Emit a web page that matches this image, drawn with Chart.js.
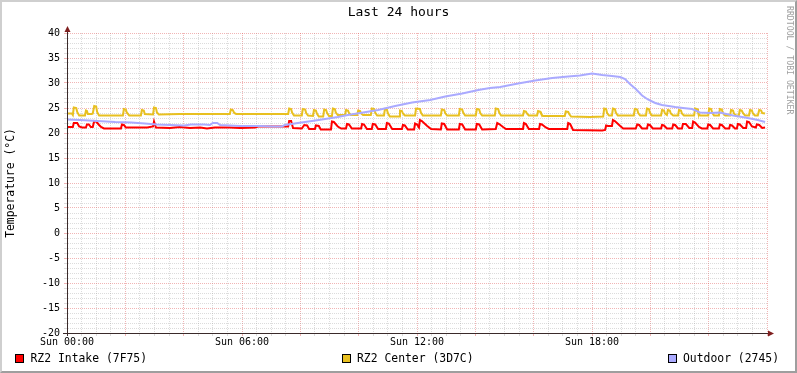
<!DOCTYPE html>
<html><head><meta charset="utf-8">
<script src="https://cdn.jsdelivr.net/npm/chart.js@4.4.1/dist/chart.umd.min.js"></script>
<style>
html,body{margin:0;padding:0;background:#fff;}
#wrap{position:relative;width:797px;height:373px;overflow:hidden;background:#fff;font-family:'DejaVu Sans Mono',monospace;}
#c{position:absolute;left:0;top:0;}
#frame{position:absolute;left:0;top:0;width:797px;height:373px;box-sizing:border-box;border-top:2px solid #cfcfcf;border-left:2px solid #cfcfcf;border-right:2px solid #9e9e9e;border-bottom:2px solid #9e9e9e;pointer-events:none;}
.lg{position:absolute;top:353px;font-size:11.4px;line-height:11.4px;color:#000;white-space:pre;}
.sw{position:absolute;top:354px;width:9px;height:9px;box-sizing:border-box;border:1px solid #000;}
#wm{position:absolute;left:793.6px;top:5.5px;font-size:8.2px;line-height:8.2px;color:#a0a0a0;transform-origin:0 0;transform:rotate(90deg);white-space:pre;}
</style></head>
<body>
<div id="wrap">
<canvas id="c" width="797" height="373"></canvas>
<div id="legend"></div>
<div id="wm">RRDTOOL / TOBI OETIKER</div>
<div id="frame"></div>
</div>
<script>
// ---- data (minutes since Sun 00:00, °C) ----
const chartTitle = 'Last 24 hours';
const yAxisTitle = 'Temperature (°C)';
const seriesNames = ['RZ2 Intake (7F75)', 'RZ2 Center (3D7C)', 'Outdoor (2745)'];
const seriesColors = ['#ff0000', '#e8c020', '#aaaaff'];
const xLabelMinutes = [0, 360, 720, 1080];
const xLabels = ['Sun 00:00', 'Sun 06:00', 'Sun 12:00', 'Sun 18:00'];
const yLabelValues = [-20, -15, -10, -5, 0, 5, 10, 15, 20, 25, 30, 35, 40];

const intake = [[0,21.2],[12,21.2],[14,22.0],[21,22.0],[25,21.3],[31,21.1],[39,21.1],[41,21.7],[45,21.7],[49,21.2],[53,21.2],[56,22.4],[60,22.3],[66,21.6],[70,21.2],[76,20.9],[111,20.9],[113,21.7],[117,21.6],[121,21.1],[165,21.1],[177,21.3],[179,22.3],[181,22.3],[183,21.1],[212,21.0],[232,21.2],[253,21.0],[274,21.1],[288,20.9],[304,21.1],[335,21.1],[356,21.0],[387,21.1],[393,21.3],[455,21.3],[457,22.4],[461,22.4],[465,21.0],[483,20.9],[488,21.6],[494,21.5],[498,20.8],[510,20.8],[512,21.5],[518,21.4],[522,20.7],[543,20.7],[545,22.3],[549,22.2],[557,21.3],[564,20.9],[574,20.9],[576,21.8],[580,21.7],[586,20.9],[605,20.9],[607,21.8],[611,21.7],[617,20.8],[627,20.8],[629,21.8],[634,21.7],[640,20.8],[656,20.8],[658,22.0],[662,21.9],[669,20.8],[689,20.8],[691,21.6],[695,21.5],[701,20.7],[714,20.7],[716,21.9],[720,21.7],[724,21.1],[726,22.6],[730,22.4],[741,21.4],[749,20.8],[769,20.7],[771,21.9],[776,21.8],[782,20.7],[806,20.7],[808,21.8],[813,21.7],[819,20.7],[841,20.7],[843,21.8],[848,21.7],[854,20.7],[882,20.8],[885,22.0],[889,21.8],[897,21.2],[903,20.8],[938,20.8],[940,22.0],[944,21.8],[950,20.8],[971,20.8],[973,21.8],[977,21.7],[985,21.1],[991,20.8],[1029,20.8],[1031,22.0],[1035,21.8],[1041,20.6],[1101,20.5],[1107,20.6],[1109,21.5],[1113,21.4],[1121,21.4],[1123,22.6],[1127,22.4],[1138,21.4],[1144,20.9],[1170,20.9],[1173,21.7],[1177,21.6],[1183,20.9],[1193,20.9],[1195,21.7],[1199,21.6],[1205,20.9],[1222,20.9],[1224,21.6],[1228,21.5],[1234,20.9],[1245,20.9],[1247,21.7],[1251,21.6],[1257,20.9],[1265,20.9],[1267,21.8],[1273,21.8],[1280,21.0],[1286,21.0],[1288,22.3],[1292,22.1],[1300,21.2],[1306,20.9],[1317,20.9],[1319,21.7],[1323,21.6],[1329,20.9],[1341,20.9],[1343,21.7],[1347,21.6],[1354,20.9],[1362,20.9],[1364,21.6],[1368,21.5],[1374,20.9],[1378,20.9],[1380,21.8],[1384,21.7],[1391,21.0],[1397,21.0],[1399,22.3],[1403,22.2],[1409,21.3],[1417,21.1],[1419,21.7],[1424,21.6],[1430,21.0],[1436,21.1]];

const center = [[0,23.9],[10,23.9],[12,23.6],[14,25.1],[19,25.0],[21,24.2],[25,23.5],[37,23.5],[39,24.5],[41,24.4],[43,23.8],[51,23.8],[53,23.9],[56,25.4],[60,25.3],[62,24.2],[66,23.5],[115,23.5],[117,24.8],[121,24.7],[123,24.1],[128,23.5],[152,23.5],[154,24.6],[158,24.5],[160,23.8],[177,23.7],[179,25.1],[183,25.0],[185,24.1],[189,23.7],[232,23.8],[274,23.8],[335,23.8],[337,24.7],[341,24.6],[344,24.0],[348,23.8],[455,23.8],[457,24.9],[461,24.8],[463,24.1],[467,23.5],[483,23.5],[485,24.8],[490,24.7],[492,24.0],[496,23.5],[506,23.4],[508,24.6],[512,24.5],[514,23.9],[518,23.3],[527,23.3],[529,24.7],[533,24.6],[535,24.0],[539,23.4],[545,23.4],[547,24.9],[551,24.8],[553,24.1],[557,23.6],[572,23.6],[574,24.6],[578,24.5],[580,24.0],[584,23.6],[597,23.6],[599,24.5],[603,24.4],[605,23.9],[609,23.6],[625,23.6],[627,24.9],[632,24.8],[634,24.1],[638,23.5],[652,23.5],[654,24.8],[658,24.7],[660,24.0],[664,23.3],[683,23.3],[685,24.5],[689,24.4],[691,23.9],[695,23.5],[716,23.5],[718,24.9],[726,24.8],[728,24.1],[732,23.5],[769,23.5],[771,24.7],[776,24.6],[778,24.0],[782,23.5],[806,23.5],[808,24.8],[813,24.7],[815,24.1],[819,23.5],[841,23.5],[843,24.8],[848,24.7],[850,24.0],[854,23.5],[880,23.5],[882,24.9],[887,24.8],[889,24.1],[893,23.5],[938,23.5],[940,24.4],[944,24.3],[946,23.9],[950,23.5],[967,23.5],[969,24.4],[973,24.3],[975,23.9],[979,23.4],[1024,23.4],[1026,24.3],[1031,24.2],[1033,23.8],[1037,23.3],[1076,23.2],[1103,23.3],[1105,24.9],[1109,24.8],[1111,24.0],[1115,23.5],[1121,23.5],[1123,24.9],[1127,24.8],[1129,24.1],[1133,23.5],[1166,23.5],[1168,24.8],[1173,24.7],[1175,24.0],[1179,23.5],[1191,23.5],[1193,24.9],[1197,24.8],[1199,24.1],[1203,23.5],[1222,23.5],[1224,24.6],[1228,24.5],[1230,23.9],[1234,23.6],[1236,24.6],[1240,24.5],[1242,23.9],[1247,23.5],[1257,23.5],[1259,24.6],[1263,24.5],[1265,23.9],[1269,23.5],[1290,23.5],[1292,24.9],[1296,24.8],[1298,24.1],[1302,23.5],[1319,23.5],[1321,24.9],[1325,24.8],[1327,24.1],[1331,23.5],[1341,23.5],[1343,24.8],[1347,24.7],[1349,24.0],[1354,23.5],[1364,23.5],[1366,24.6],[1370,24.5],[1372,23.9],[1376,23.5],[1382,23.5],[1384,24.6],[1388,24.5],[1391,23.9],[1395,23.5],[1403,23.5],[1405,24.6],[1409,24.5],[1411,23.9],[1415,23.5],[1421,23.5],[1424,24.6],[1428,24.5],[1430,24.0],[1436,23.9]];

const outdoor = [[0,22.7],[27,22.6],[62,22.4],[99,22.2],[132,22.1],[160,21.9],[185,21.7],[212,21.6],[241,21.5],[255,21.7],[282,21.7],[294,21.6],[300,22.0],[309,22.0],[315,21.6],[356,21.4],[397,21.4],[422,21.3],[442,21.3],[448,21.6],[475,22.0],[504,22.4],[531,22.8],[557,23.2],[578,23.6],[603,24.0],[640,24.6],[675,25.4],[710,26.1],[747,26.6],[778,27.3],[813,27.9],[846,28.6],[870,29.0],[891,29.2],[928,29.9],[963,30.5],[998,31.0],[1031,31.3],[1055,31.5],[1080,31.9],[1101,31.6],[1121,31.4],[1138,31.2],[1148,30.8],[1158,29.8],[1170,28.8],[1183,27.5],[1195,26.7],[1210,26.0],[1224,25.6],[1251,25.2],[1267,25.0],[1286,24.8],[1302,24.1],[1323,24.0],[1343,24.1],[1370,23.5],[1395,23.1],[1421,22.6],[1436,22.2]];

// ---- styling ----
const MONO = "'DejaVu Sans Mono', monospace";
const MAJOR = 'rgba(222,79,79,0.42)';
const MINOR = 'rgba(150,150,150,0.33)';
const AXIS = '#3a2a2a';
const ARROW = '#7f1f1f';
const X_MIN = 0, X_MAX = 1442, X_STEP = 30, X_MAJOR = 120;
const Y_MIN = -20, Y_MAX = 40;

const toXY = arr => arr.map(p => ({x: p[0], y: p[1]}));
const allSeries = [intake, center, outdoor];

const axisArrows = {
  id: 'axisArrows',
  afterDraw(chart) {
    const {ctx, chartArea: a} = chart;
    const L = Math.round(a.left) + 0.5, B = Math.round(a.bottom) + 0.5;
    ctx.save();
    ctx.strokeStyle = AXIS; ctx.lineWidth = 1;
    ctx.beginPath();
    ctx.moveTo(L, a.bottom + 3); ctx.lineTo(L, a.top - 1);
    ctx.moveTo(a.left - 4, B); ctx.lineTo(a.right + 1, B);
    ctx.stroke();
    ctx.fillStyle = ARROW;
    ctx.beginPath(); ctx.moveTo(L, a.top - 7); ctx.lineTo(L - 3, a.top - 1); ctx.lineTo(L + 3, a.top - 1); ctx.closePath(); ctx.fill();
    ctx.beginPath(); ctx.moveTo(a.right + 6, B); ctx.lineTo(a.right, B - 3); ctx.lineTo(a.right, B + 3); ctx.closePath(); ctx.fill();
    ctx.restore();
  }
};

const gridCol = (major) => (c) => (c.tick && c.tick.value % major === 0) ? MAJOR : MINOR;

new Chart(document.getElementById('c'), {
  type: 'line',
  data: {
    datasets: allSeries.map((s, i) => ({
      label: seriesNames[i],
      data: toXY(s),
      borderColor: seriesColors[i],
      backgroundColor: seriesColors[i],
      borderWidth: 2,
      pointRadius: 0,
      tension: 0,
      fill: false,
      order: 3 - i
    }))
  },
  options: {
    responsive: false,
    animation: false,
    devicePixelRatio: 1,
    layout: {padding: {left: 0, right: 0, top: 0, bottom: 20}},
    plugins: {
      legend: {display: false},
      tooltip: {enabled: false},
      title: {
        display: true, text: chartTitle, color: '#000',
        font: {family: MONO, size: 13, weight: 'normal', lineHeight: 1.2},
        padding: {top: 5, bottom: 12.4}
      }
    },
    scales: {
      x: {
        type: 'linear', position: 'bottom', min: X_MIN, max: X_MAX,
        afterBuildTicks: s => { const t = []; for (let m = 0; m <= 1440; m += X_STEP) t.push({value: m}); s.ticks = t; },
        afterFit: s => { s.height = 20; },
        ticks: {
          autoSkip: false, maxRotation: 0, minRotation: 0, padding: 0, color: '#000',
          font: {family: MONO, size: 10},
          callback: v => { const k = xLabelMinutes.indexOf(v); return k >= 0 ? xLabels[k] : ''; }
        },
        grid: {color: gridCol(X_MAJOR), lineWidth: 1, drawTicks: true, tickLength: 3, tickColor: gridCol(X_MAJOR)},
        border: {display: true, color: AXIS, width: 1, dash: [1, 1]}
      },
      y: {
        type: 'linear', position: 'left', min: Y_MIN, max: Y_MAX,
        afterBuildTicks: s => { const t = []; for (let v = Y_MIN; v <= Y_MAX; v += 1) t.push({value: v}); s.ticks = t; },
        afterFit: s => { s.width = 67; },
        ticks: {
          autoSkip: false, padding: 4, color: '#000',
          font: {family: MONO, size: 10},
          callback: v => yLabelValues.includes(v) ? String(v) : ''
        },
        title: {display: true, text: yAxisTitle, color: '#000', font: {family: MONO, size: 11.4, lineHeight: 1.2}, padding: {top: 4, bottom: 0}},
        grid: {color: gridCol(5), lineWidth: 1, drawTicks: true, tickLength: 3, tickColor: gridCol(5)},
        border: {display: true, color: AXIS, width: 1, dash: [1, 1]}
      },
      pad: {
        type: 'linear', position: 'right', display: true,
        grid: {display: false, drawTicks: false},
        border: {display: false},
        ticks: {display: false},
        afterFit: s => { s.width = 29; }
      }
    }
  },
  plugins: [axisArrows]
});

// legend (HTML text)
const swatchX = [15, 342, 668];
const textX = [30.5, 357, 683];
const lg = document.getElementById('legend');
seriesNames.forEach((n, i) => {
  const sw = document.createElement('div');
  sw.className = 'sw'; sw.style.left = swatchX[i] + 'px'; sw.style.background = seriesColors[i];
  lg.appendChild(sw);
  const t = document.createElement('div');
  t.className = 'lg'; t.style.left = textX[i] + 'px'; t.textContent = n;
  lg.appendChild(t);
});
</script>
</body></html>
